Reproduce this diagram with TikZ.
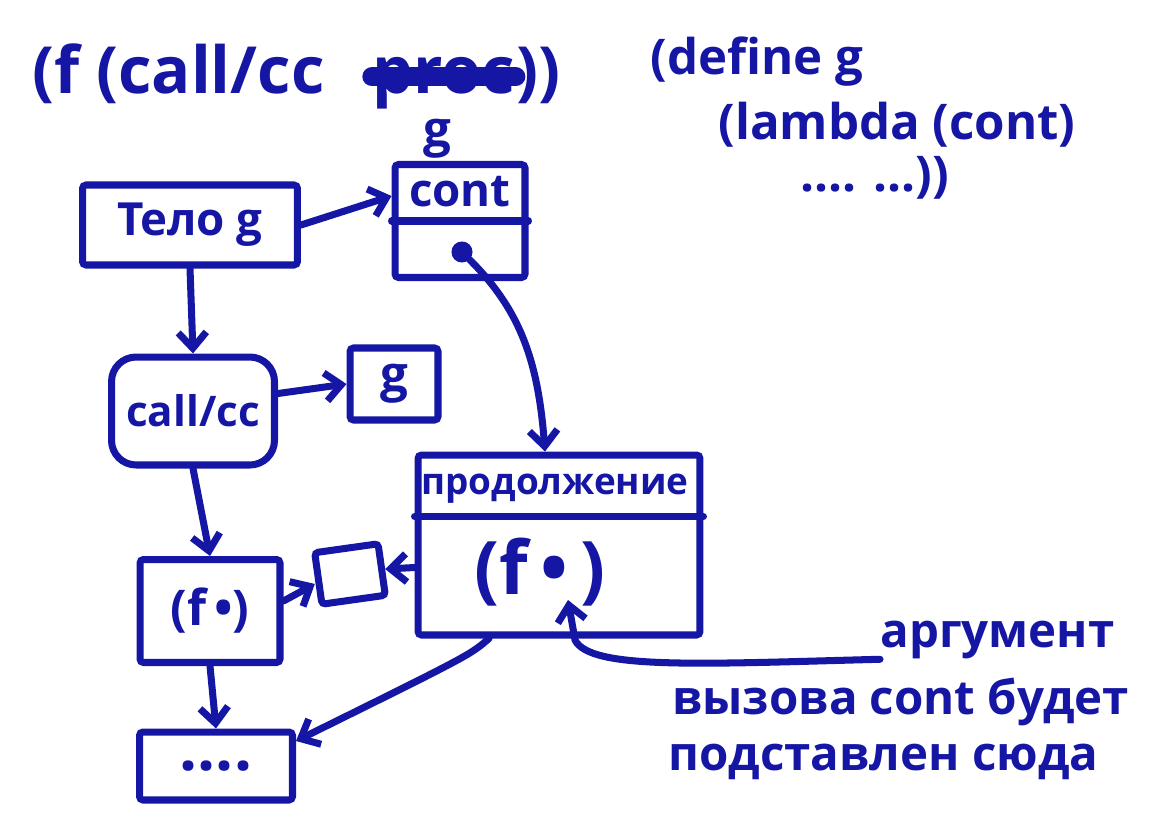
\documentclass[tikz,border=0pt]{standalone}
\usepackage{fontspec}
\setmainfont{Open Sans}
\usetikzlibrary{arrows.meta,calc}
\definecolor{ink}{RGB}{22,22,165}
\tikzset{
  box/.style={draw=ink, line width=4pt, rounded corners=2pt, inner sep=0pt},
  txt/.style={text=ink, inner sep=0pt, font=\bfseries\fontsize{#1}{#1}\selectfont},
  txt/.default=24,
  arr/.style={draw=ink, line width=4pt, line cap=round,
    -{Straight Barb[length=9pt,width=16pt,line width=4pt]}},
  pen/.style={draw=ink, line width=4pt, line cap=round, line join=round}
}
\begin{document}
\begin{tikzpicture}[x=0.02cm,y=-0.02cm]
\useasboundingbox (0,0) rectangle (1168,824);
% top code
\node[txt=37, anchor=base west] (t1) at (32,94) {(f (call/cc};
\node[txt=37, anchor=base west] (proc) at (372,94) {proc};
\node[txt=37, anchor=base west] (t2) at (proc.base east) {))};
\draw[ink, line width=11pt, line cap=round] ([yshift=4pt]proc.west) -- ([yshift=4pt]proc.east);
\node[txt=28] (g1) at (437,139) {g};
\node[txt=28, anchor=base west] (d1) at (650,75) {(define g};
\node[txt=28, anchor=base west] (d2) at (718,140) {(lambda (cont)};
\node[txt=28, anchor=base west] (d3) at (800,192) {.... ...))};
% boxes
\node[box, minimum width=4.3cm, minimum height=1.6cm, txt=26] (telo) at (190,225) {Тело g};
\node[box, minimum width=2.6cm, minimum height=2.26cm] (cont) at (460,221) {};
\node[txt=26] (contlbl) at (460,192) {cont};
\draw[pen] (cont.west) -- (cont.east);
\node[circle, fill=ink, inner sep=0pt, minimum size=12pt] (contdot) at (462,252) {};
\node[box, rounded corners=14pt, minimum width=3.26cm, minimum height=2.16cm, txt=24] (callcc) at (193,411) {call/cc};
\node[box, minimum width=1.76cm, minimum height=1.44cm, txt=28] (gbox) at (394,384) {g};
\node[box, minimum width=2.8cm, minimum height=2.06cm, txt=28] (fbox) at (210,611) {(f\,•)};
\node[box, minimum width=1.28cm, minimum height=1.04cm, rotate=8] (small) at (350,574) {};
\node[box, minimum width=5.64cm, minimum height=3.6cm] (prod) at (559,545) {};
\draw[pen] ([yshift=-1.3cm]prod.north west) -- ([yshift=-1.3cm]prod.north east);
\node[txt=21] (prodlbl) at (555,489) {продолжение};
\node[txt=42] (prodf) at (540,572) {(f\,•\,)};
\node[box, minimum width=3.06cm, minimum height=1.36cm, txt=36] (dots) at (216,766) {....};
\coordinate (argtip) at (568,600);
% arrows
\draw[arr] (telo.east) -- ([yshift=0.5cm]cont.west);
\draw[arr] (telo.south) -- (callcc.north);
\draw[arr] ([yshift=0.35cm]callcc.east) -- (gbox.west);
\draw[arr] (callcc.south) -- (fbox.north);
\draw[arr] ([yshift=0.2cm]fbox.east) -- ([yshift=-0.1cm]small.west);
\draw[arr] ([yshift=-0.45cm]prod.west) -- (small.east);
\draw[arr] (fbox.south) -- (dots.north);
\draw[arr] (contdot) .. controls (520,310) and (538,360) .. (prod.north -| 545,0);
\draw[arr] ([xshift=-1.4cm]prod.south) .. controls (470,655) .. ([yshift=0.5cm]dots.east);
% annotation
\node[txt=27, anchor=west] (ann1) at (880,640) {аргумент};
\node[txt=27, anchor=west] (ann2) at (672,702) {вызова cont будет};
\node[txt=27, anchor=west] (ann3) at (668,762) {подставлен сюда};
\draw[arr] (ann1.south west) .. controls (700,664) and (590,670) .. (575,640) -- (argtip);
\end{tikzpicture}
\end{document}
